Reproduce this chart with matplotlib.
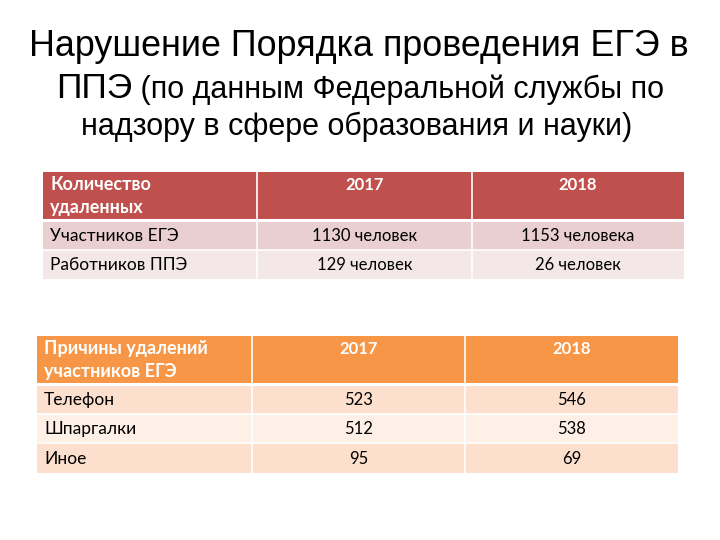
import matplotlib.pyplot as plt
from matplotlib.patches import Rectangle

# data
title_line1 = 'Нарушение Порядка проведения ЕГЭ в'
title_line2_big = 'ППЭ'
title_line2_small = ' (по данным Федеральной службы по'
title_line3 = 'надзору в сфере образования и науки)'

years = ['2017', '2018']

t1_header = 'Количество\nудаленных'
t1_rows = ['Участников ЕГЭ', 'Работников ППЭ']
t1_2017 = ['1130 человек', '129 человек']
t1_2018 = ['1153 человека', '26 человек']

t2_header = 'Причины удалений\nучастников ЕГЭ'
t2_rows = ['Телефон', 'Шпаргалки', 'Иное']
t2_2017 = [523, 512, 95]
t2_2018 = [546, 538, 69]

TITLE_FONT = ['Liberation Sans', 'DejaVu Sans']
CELL_FONT = ['Lato', 'DejaVu Sans']

fig = plt.figure(figsize=(7.2, 5.4), dpi=100)
ax = fig.add_axes([0, 0, 1, 1])
ax.set_xlim(0, 720)
ax.set_ylim(540, 0)
ax.axis('off')

# title
ax.text(359, 46, title_line1, ha='center', va='center', fontsize=25.8,
        family=TITLE_FONT, color='black')
t_big = ax.text(0, 89, title_line2_big, ha='left', va='center', fontsize=25.5,
                family=TITLE_FONT, color='black')
t_small = ax.text(0, 90, title_line2_small, ha='left', va='center', fontsize=22,
                  family=TITLE_FONT, color='black')
fig.canvas.draw()
r = fig.canvas.get_renderer()
w_big = t_big.get_window_extent(r).width
w_small = t_small.get_window_extent(r).width
x0 = 360 - (w_big + w_small) / 2
t_big.set_x(x0)
t_small.set_x(x0 + w_big)
ax.text(357, 127, title_line3, ha='center', va='center', fontsize=22,
        family=TITLE_FONT, color='black')


def draw_table(left, cols, top, head_h, row_h, header, rows, v1, v2,
               head_col, band_cols):
    right = cols[-1]
    edges = [left] + cols
    # header
    ax.add_patch(Rectangle((left, top), right - left, head_h,
                           facecolor=head_col, edgecolor='none'))
    ax.text(left + 7, top + 4, header, ha='left', va='top', fontsize=13,
            fontweight='bold', color='white', family=CELL_FONT, linespacing=1.4)
    for j, yr in enumerate(years):
        cx = (edges[j + 1] + edges[j + 2]) / 2
        ax.text(cx, top + 5, yr, ha='center', va='top', fontsize=12,
                fontweight='bold', color='white', family=CELL_FONT)
    # body
    y = top + head_h
    for i, lab in enumerate(rows):
        ax.add_patch(Rectangle((left, y), right - left, row_h,
                               facecolor=band_cols[i % 2], edgecolor='none'))
        ax.text(left + 7, y + row_h / 2 + 1, lab, ha='left', va='center',
                fontsize=12.5, color='black', family=CELL_FONT)
        for j, val in enumerate([v1[i], v2[i]]):
            cx = (edges[j + 1] + edges[j + 2]) / 2
            ax.text(cx, y + row_h / 2 + 1, str(val), ha='center', va='center',
                    fontsize=12, color='black', family=CELL_FONT)
        if i > 0:
            ax.plot([left, right], [y, y], color='white', lw=1.2)
        y += row_h
    ax.plot([left, right], [top + head_h, top + head_h], color='white', lw=2.2)
    for xc in cols[:-1]:
        ax.plot([xc, xc], [top, y], color='white', lw=1.2)


draw_table(43, [257, 472, 684], 172, 48, 29.5, t1_header, t1_rows,
           t1_2017, t1_2018, '#C0504D', ['#E9CFCF', '#F3E7E7'])
draw_table(37, [252, 465, 678], 336, 48, 29.5, t2_header, t2_rows,
           t2_2017, t2_2018, '#F79646', ['#FCDFCD', '#FEF0E7'])

fig.savefig('out.png', dpi=100, facecolor='white')
